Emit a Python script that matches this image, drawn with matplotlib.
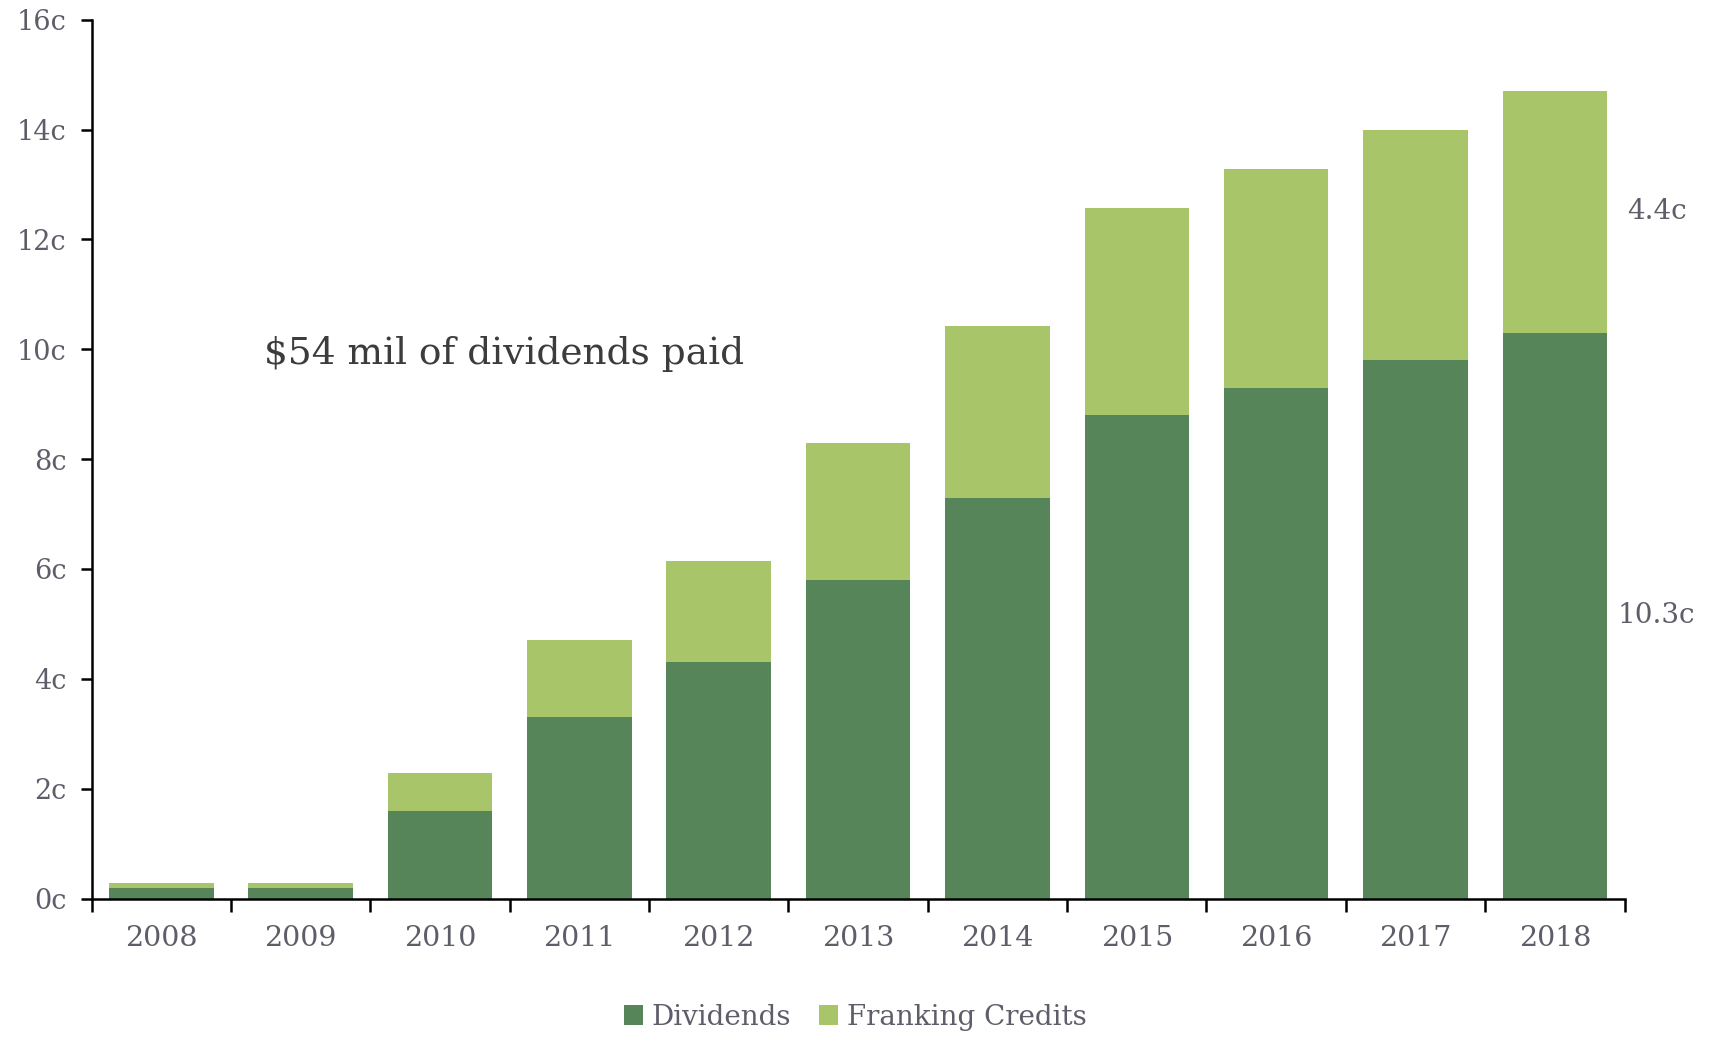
import matplotlib
matplotlib.use("Agg")
import matplotlib.pyplot as plt
import numpy as np

# cents per share
years = ["2008", "2009", "2010", "2011", "2012", "2013",
         "2014", "2015", "2016", "2017", "2018"]
dividends = [0.2, 0.2, 1.6, 3.3, 4.3, 5.8, 7.3, 8.8, 9.3, 9.8, 10.3]
franking = [0.09, 0.09, 0.69, 1.41, 1.84, 2.49, 3.13, 3.77, 3.99, 4.2, 4.4]

dark_green = "#558559"
light_green = "#a9c56a"
tick_grey = "#5e5e6a"

plt.rcParams["font.family"] = "DejaVu Serif"

fig = plt.figure(figsize=(17.1, 10.37), dpi=100)
ax = fig.add_axes([0.0536, 0.1335, 0.8964, 0.8475])

x = np.arange(len(years))
b1 = ax.bar(x, dividends, width=0.75, color=dark_green, label="Dividends")
b2 = ax.bar(x, franking, width=0.75, bottom=dividends, color=light_green,
            label="Franking Credits")

ax.set_xlim(-0.5, len(years) - 0.5)
ax.set_ylim(0, 16)
ax.set_yticks(np.arange(0, 17, 2))
ax.set_yticklabels(["%dc" % v for v in range(0, 17, 2)])
ax.set_xticks(x)
ax.set_xticklabels(years)
ax.set_xticks(np.arange(-0.5, len(years)), minor=True)

for s in ["top", "right"]:
    ax.spines[s].set_visible(False)
for s in ["left", "bottom"]:
    ax.spines[s].set_linewidth(1.8)

ax.tick_params(axis="x", which="major", length=0, pad=19, labelsize=20.5,
               labelcolor=tick_grey)
ax.tick_params(axis="x", which="minor", length=9, width=1.8, direction="out")
ax.tick_params(axis="y", length=8, width=1.8, pad=10, labelsize=19.5,
               labelcolor=tick_grey)

# last year's split written beside the bar
last = len(years) - 1
ax.text(last + 0.73, dividends[last] + franking[last] / 2,
        "%.1fc" % franking[last], fontsize=20, color=tick_grey,
        ha="center", va="center")
ax.text(last + 0.73, dividends[last] / 2, "%.1fc" % dividends[last],
        fontsize=20, color=tick_grey, ha="center", va="center", clip_on=False)

ax.text(0.74, 9.92, "$54 mil of dividends paid", fontsize=27,
        color="#3c3c3c", ha="left", va="center")

fig.legend(handles=[b1, b2], loc="center", bbox_to_anchor=(0.5, 0.019),
           ncol=2, frameon=False, fontsize=20, handlelength=0.7,
           handleheight=0.7, handletextpad=0.3, columnspacing=1.0,
           labelcolor=tick_grey)

fig.savefig("out.png", dpi=100)
